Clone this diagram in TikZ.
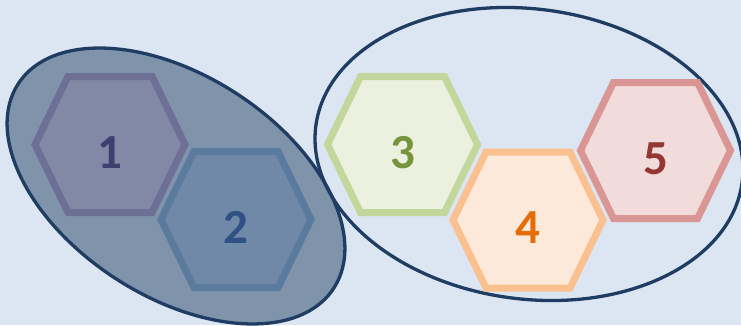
\documentclass[tikz,border=0pt]{standalone}
\usepackage{fontspec}
\setmainfont{Carlito}
\definecolor{bg}{HTML}{DCE6F2}
\definecolor{ringc}{HTML}{1F3D63}
\definecolor{lfill}{HTML}{7F93AB}
\definecolor{hAf}{HTML}{8189A6}\definecolor{hAd}{HTML}{6D6F95}\definecolor{hAt}{HTML}{3F3F6E}
\definecolor{hBf}{HTML}{7189A8}\definecolor{hBd}{HTML}{5A7A9E}\definecolor{hBt}{HTML}{2F5184}
\definecolor{hCf}{HTML}{EBF1DE}\definecolor{hCd}{HTML}{C3D69B}\definecolor{hCt}{HTML}{77933C}
\definecolor{hDf}{HTML}{FDE9D9}\definecolor{hDd}{HTML}{FAC090}\definecolor{hDt}{HTML}{E46C0A}
\definecolor{hEf}{HTML}{F2DCDB}\definecolor{hEd}{HTML}{D99694}\definecolor{hEt}{HTML}{953735}
\newcommand{\myhex}[7]{%
  \coordinate (#1) at (#2,#3);
  \draw[hexline,fill=#4,draw=#5] ($(#1)+(-75,0)$) -- ($(#1)+(-42,-68)$) -- ($(#1)+(42,-68)$)
     -- ($(#1)+(75,0)$) -- ($(#1)+(42,68)$) -- ($(#1)+(-42,68)$) -- cycle;
  \node[hexlabel,text=#6] (#1-label) at ($(#1)+(0,8)$) {#7};
}
\usetikzlibrary{calc}
\begin{document}
\begin{tikzpicture}[x=1pt,y=-1pt,
  hexline/.style={line width=7pt,line join=miter},
  hexlabel/.style={inner sep=0pt,font=\fontsize{49}{49}\selectfont\bfseries},
  ring/.style={draw=ringc,line width=3.3pt}]
\useasboundingbox (0,0) rectangle (741,325);
\fill[bg] (0,0) rectangle (741,325);
\coordinate (leftring) at (176,186);
\draw[ring,fill=lfill,rotate around={-32.9:(leftring)}] (leftring) ellipse [x radius=188pt, y radius=110.5pt];
\coordinate (rightring) at (529,154);
\draw[ring,rotate around={-7.6:(rightring)}] (rightring) ellipse [x radius=215pt, y radius=145pt];
\myhex{h1}{110}{144.5}{hAf}{hAd}{hAt}{1}
\myhex{h2}{236}{219.5}{hBf}{hBd}{hBt}{2}
\myhex{h3}{402.5}{144.5}{hCf}{hCd}{hCt}{3}
\myhex{h4}{528}{220}{hDf}{hDd}{hDt}{4}
\myhex{h5}{655.5}{150.5}{hEf}{hEd}{hEt}{5}
\end{tikzpicture}
\end{document}
